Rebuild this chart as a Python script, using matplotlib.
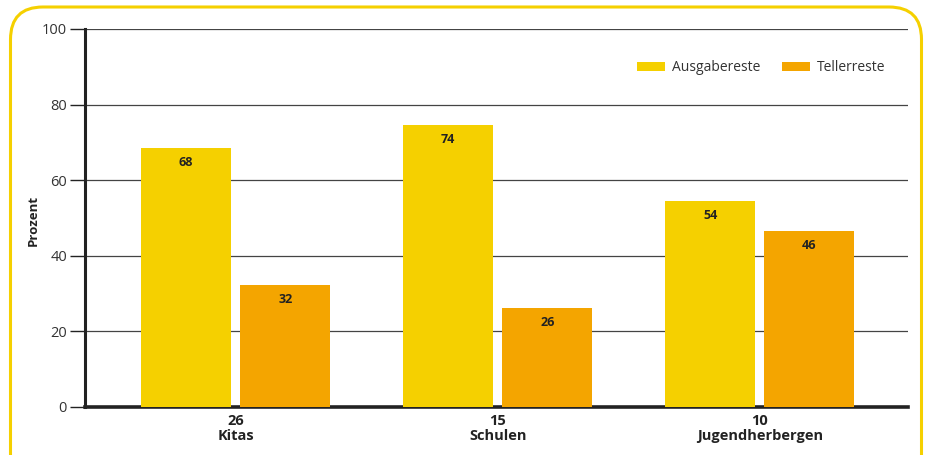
import matplotlib.pyplot as plt
from matplotlib.patches import FancyBboxPatch
import numpy as np

plt.rcParams['font.family'] = ['Open Sans', 'DejaVu Sans']

# data
groups = ['Kitas', 'Schulen', 'Jugendherbergen']
counts = ['26', '15', '10']
ausgabe = [68.5, 74.6, 54.5]
teller = [32.3, 26.3, 46.6]
ausgabe_labels = ['68', '74', '54']
teller_labels = ['32', '26', '46']
series = ['Ausgabereste', 'Tellerreste']

yellow = '#f5d000'
orange = '#f4a500'
dark = '#222222'

fig = plt.figure(figsize=(9.28, 4.55), dpi=100)
ax = fig.add_axes([85 / 928, 48 / 455, 823 / 928, 378 / 455])

# rounded yellow frame
frame = FancyBboxPatch((10.5 / 928, -0.2), 911 / 928, 1.2 - 7 / 455,
                       boxstyle='round,pad=0,rounding_size=0.035',
                       transform=fig.transFigure, fill=False,
                       edgecolor=yellow, linewidth=2.2, clip_on=False,
                       mutation_aspect=928 / 455)
fig.patches.append(frame)

x = np.arange(len(groups))
w = 0.343
off = 0.189
b1 = ax.bar(x - off, ausgabe, w, color=yellow, label=series[0], zorder=3)
b2 = ax.bar(x + off, teller, w, color=orange, label=series[1], zorder=3)

for bars, labels in ((b1, ausgabe_labels), (b2, teller_labels)):
    for r, lab in zip(bars, labels):
        ax.annotate(lab, (r.get_x() + r.get_width() / 2, r.get_height()),
                    xytext=(0, -10.5), textcoords='offset points', ha='center', va='center',
                    fontsize=9, fontweight='bold', color=dark, zorder=4)

ax.set_xlim(-0.575, 2.565)
ax.set_ylim(0, 100)
ax.set_yticks([0, 20, 40, 60, 80, 100])
ax.yaxis.grid(True, color='#444444', linewidth=0.9, zorder=1)
ax.set_xticks(x)
ax.set_xticklabels([f'{c}\n{g}' for c, g in zip(counts, groups)],
                   fontsize=10.5, fontweight='bold', color=dark, linespacing=1.1)
ax.tick_params(axis='x', length=0, pad=5)
ax.tick_params(axis='y', length=11, width=1, color=dark, labelsize=10.5, labelcolor='#333333', pad=2)

for s in ('top', 'right'):
    ax.spines[s].set_visible(False)
ax.spines['left'].set_linewidth(2.2)
ax.spines['left'].set_color(dark)
ax.spines['bottom'].set_linewidth(2.6)
ax.spines['bottom'].set_color(dark)

fig.text(33 / 928, 1 - 220 / 455, 'Prozent', rotation=90, ha='center', va='center',
         fontsize=9.5, fontweight='bold', color=dark)

ax.legend(loc='upper right', bbox_to_anchor=(0.988, 0.95), ncol=2, frameon=False,
          fontsize=10, handlelength=2.0, handleheight=0.6, columnspacing=1.6,
          handletextpad=0.5, labelcolor='#333333')

fig.savefig('out.png', dpi=100)
